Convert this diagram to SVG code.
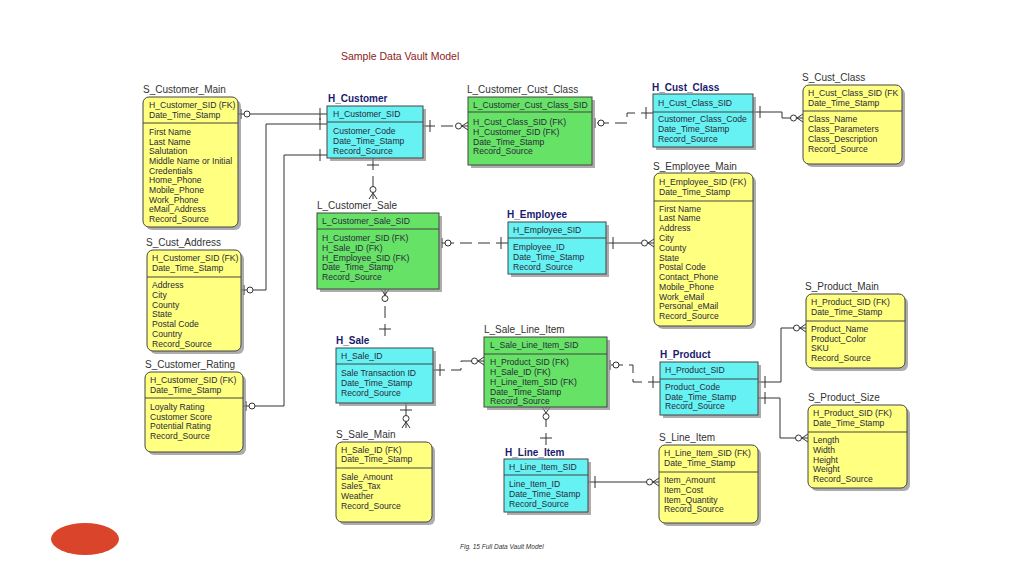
<svg xmlns="http://www.w3.org/2000/svg" width="1024" height="576" viewBox="0 0 1024 576">
<style>
text{font-family:"Liberation Sans",Arial,sans-serif;font-size:8.6px;fill:#2a2a3a}
.lbl{font-size:10px;fill:#333}
.ttl{font-size:10px;font-weight:bold;fill:#1a1a6e}
.sh{fill:#8a8a8a;opacity:.7}
.sat{fill:#ffff80;stroke:#444;stroke-width:1}
.hub{fill:#66f2f2;stroke:#444;stroke-width:1}
.lnk{fill:#66e266;stroke:#444;stroke-width:1}
.dv{stroke:#444;stroke-width:1}
.c{fill:none;stroke:#333;stroke-width:1}
.d{stroke-dasharray:12 6}
</style>
<defs>
<marker id="crow" markerUnits="userSpaceOnUse" markerWidth="16" markerHeight="12" refX="15" refY="6" orient="auto" overflow="visible">
<path d="M15,2 L9,6 L15,10" fill="none" stroke="#333"/><circle cx="5.5" cy="6" r="3" fill="#fff" stroke="#333"/>
</marker>
<marker id="ob" markerUnits="userSpaceOnUse" markerWidth="16" markerHeight="12" refX="15" refY="6" orient="auto" overflow="visible">
<path d="M12,1 L12,11" stroke="#333"/><circle cx="6" cy="6" r="3" fill="#fff" stroke="#333"/>
</marker>
<marker id="bar" markerUnits="userSpaceOnUse" markerWidth="12" markerHeight="12" refX="0" refY="6" orient="auto" overflow="visible">
<path d="M7,0 L7,12" stroke="#333"/>
</marker>
</defs>
<rect width="1024" height="576" fill="#fff"/>
<text x="341" y="60" style="font-size:10.5px;fill:#8b1c1c">Sample Data Vault Model</text>
<text x="460" y="549" style="font-size:6.5px;font-style:italic;fill:#333">Fig. 15  Full Data Vault Model</text>
<ellipse cx="85" cy="539" rx="34" ry="16" fill="#d9442a"/>

<g id="connectors">
<path class="c" marker-start="url(#bar)" marker-end="url(#ob)" d="M327,114 L238,114"/>
<path class="c" marker-start="url(#bar)" marker-end="url(#ob)" d="M327,124 L266,124 L266,290 L241,290"/>
<path class="c" marker-start="url(#bar)" marker-end="url(#ob)" d="M327,155 L284,155 L284,406 L243,406"/>
<path class="c d" marker-start="url(#bar)" marker-end="url(#crow)" d="M373,158 L373,199"/>
<path class="c d" marker-start="url(#bar)" marker-end="url(#crow)" d="M423,126 L468,126"/>
<path class="c d" marker-start="url(#bar)" marker-end="url(#ob)" d="M653,113 L627,113 L627,123 L592,123"/>
<path class="c" marker-start="url(#bar)" marker-end="url(#crow)" d="M753,112 L782,112 L782,118 L803,118"/>
<path class="c d" marker-start="url(#bar)" marker-end="url(#ob)" d="M508,243 L439,243"/>
<path class="c" marker-start="url(#bar)" marker-end="url(#crow)" d="M606,243 L654,243"/>
<path class="c d" marker-start="url(#bar)" marker-end="url(#crow)" d="M385,336 L385,289"/>
<path class="c d" marker-start="url(#bar)" marker-end="url(#crow)" d="M433,370 L461,370 L461,361 L484,361"/>
<path class="c" marker-start="url(#bar)" marker-end="url(#crow)" d="M406,403 L406,428"/>
<path class="c d" marker-start="url(#bar)" marker-end="url(#crow)" d="M546,445 L546,407"/>
<path class="c d" marker-start="url(#bar)" marker-end="url(#ob)" d="M660,382 L633,382 L633,365 L607,365"/>
<path class="c" marker-start="url(#bar)" marker-end="url(#crow)" d="M758,382 L781,382 L781,328 L806,328"/>
<path class="c" marker-start="url(#bar)" marker-end="url(#crow)" d="M758,398 L780,398 L780,438 L808,438"/>
<path class="c" marker-start="url(#bar)" marker-end="url(#crow)" d="M588,482 L659,482"/>
</g>

<g id="S_Customer_Main">
<text class="lbl" x="143" y="93">S_Customer_Main</text>
<rect class="sh" x="146" y="100" width="95" height="130" rx="6"/>
<rect class="sat" x="143" y="97" width="95" height="130" rx="6"/>
<line class="dv" x1="143" y1="123" x2="238" y2="123"/>
<text x="149" y="108">H_Customer_SID (FK)</text><text x="149" y="118">Date_Time_Stamp</text>
<text x="149" y="135">First Name</text><text x="149" y="145">Last Name</text><text x="149" y="154">Salutation</text><text x="149" y="164">Middle Name or Initial</text><text x="149" y="174">Credentials</text><text x="149" y="183">Home_Phone</text><text x="149" y="193">Mobile_Phone</text><text x="149" y="203">Work_Phone</text><text x="149" y="212">eMail_Address</text><text x="149" y="222">Record_Source</text>
</g>

<g id="H_Customer">
<text class="ttl" x="328" y="102">H_Customer</text>
<rect class="sh" x="330" y="109" width="96" height="52"/>
<rect class="hub" x="327" y="106" width="96" height="52"/>
<line class="dv" x1="327" y1="122" x2="423" y2="122"/>
<text x="333" y="117">H_Customer_SID</text>
<text x="333" y="134">Customer_Code</text><text x="333" y="144">Date_Time_Stamp</text><text x="333" y="154">Record_Source</text>
</g>

<g id="L_Customer_Cust_Class">
<text class="lbl" x="467" y="93">L_Customer_Cust_Class</text>
<rect class="sh" x="471" y="100" width="124" height="68"/>
<rect class="lnk" x="468" y="97" width="124" height="68"/>
<line class="dv" x1="468" y1="112" x2="592" y2="112"/>
<text x="473" y="108">L_Customer_Cust_Class_SID</text>
<text x="473" y="125">H_Cust_Class_SID (FK)</text><text x="473" y="135">H_Customer_SID (FK)</text><text x="473" y="145">Date_Time_Stamp</text><text x="473" y="154">Record_Source</text>
</g>

<g id="H_Cust_Class">
<text class="ttl" x="652" y="91">H_Cust_Class</text>
<rect class="sh" x="656" y="97" width="100" height="53"/>
<rect class="hub" x="653" y="94" width="100" height="53"/>
<line class="dv" x1="653" y1="112" x2="753" y2="112"/>
<text x="658" y="106">H_Cust_Class_SID</text>
<text x="658" y="122">Customer_Class_Code</text><text x="658" y="132">Date_Time_Stamp</text><text x="658" y="142">Record_Source</text>
</g>

<g id="S_Cust_Class">
<text class="lbl" x="802" y="81">S_Cust_Class</text>
<rect class="sh" x="806" y="88" width="99" height="79" rx="6"/>
<rect class="sat" x="803" y="85" width="99" height="79" rx="6"/>
<line class="dv" x1="803" y1="111" x2="902" y2="111"/>
<text x="808" y="96">H_Cust_Class_SID (FK</text><text x="808" y="106">Date_Time_Stamp</text>
<text x="808" y="122">Class_Name</text><text x="808" y="132">Class_Parameters</text><text x="808" y="142">Class_Description</text><text x="808" y="152">Record_Source</text>
</g>

<g id="L_Customer_Sale">
<text class="lbl" x="317" y="209">L_Customer_Sale</text>
<rect class="sh" x="320" y="216" width="122" height="76"/>
<rect class="lnk" x="317" y="213" width="122" height="76"/>
<line class="dv" x1="317" y1="229" x2="439" y2="229"/>
<text x="322" y="224">L_Customer_Sale_SID</text>
<text x="322" y="241">H_Customer_SID (FK)</text><text x="322" y="251">H_Sale_ID (FK)</text><text x="322" y="261">H_Employee_SID (FK)</text><text x="322" y="270">Date_Time_Stamp</text><text x="322" y="280">Record_Source</text>
</g>

<g id="H_Employee">
<text class="ttl" x="507" y="218">H_Employee</text>
<rect class="sh" x="511" y="225" width="98" height="52"/>
<rect class="hub" x="508" y="222" width="98" height="52"/>
<line class="dv" x1="508" y1="238" x2="606" y2="238"/>
<text x="513" y="233">H_Employee_SID</text>
<text x="513" y="250">Employee_ID</text><text x="513" y="260">Date_Time_Stamp</text><text x="513" y="270">Record_Source</text>
</g>

<g id="S_Employee_Main">
<text class="lbl" x="653" y="170">S_Employee_Main</text>
<rect class="sh" x="657" y="176" width="99" height="153" rx="6"/>
<rect class="sat" x="654" y="173" width="99" height="153" rx="6"/>
<line class="dv" x1="654" y1="201" x2="753" y2="201"/>
<text x="659" y="185">H_Employee_SID (FK)</text><text x="659" y="195">Date_Time_Stamp</text>
<text x="659" y="212">First Name</text><text x="659" y="221">Last Name</text><text x="659" y="231">Address</text><text x="659" y="241">City</text><text x="659" y="251">County</text><text x="659" y="261">State</text><text x="659" y="270">Postal Code</text><text x="659" y="280">Contact_Phone</text><text x="659" y="290">Mobile_Phone</text><text x="659" y="300">Work_eMail</text><text x="659" y="309">Personal_eMail</text><text x="659" y="319">Record_Source</text>
</g>

<g id="S_Cust_Address">
<text class="lbl" x="146" y="246">S_Cust_Address</text>
<rect class="sh" x="150" y="253" width="94" height="101" rx="6"/>
<rect class="sat" x="147" y="250" width="94" height="101" rx="6"/>
<line class="dv" x1="147" y1="277" x2="241" y2="277"/>
<text x="152" y="261">H_Customer_SID (FK)</text><text x="152" y="271">Date_Time_Stamp</text>
<text x="152" y="288">Address</text><text x="152" y="298">City</text><text x="152" y="308">County</text><text x="152" y="317">State</text><text x="152" y="327">Postal Code</text><text x="152" y="337">Country</text><text x="152" y="347">Record_Source</text>
</g>

<g id="S_Customer_Rating">
<text class="lbl" x="145" y="368">S_Customer_Rating</text>
<rect class="sh" x="148" y="375" width="98" height="80" rx="6"/>
<rect class="sat" x="145" y="372" width="98" height="80" rx="6"/>
<line class="dv" x1="145" y1="398" x2="243" y2="398"/>
<text x="150" y="383">H_Customer_SID (FK)</text><text x="150" y="393">Date_Time_Stamp</text>
<text x="150" y="410">Loyalty Rating</text><text x="150" y="420">Customer Score</text><text x="150" y="429">Potential Rating</text><text x="150" y="439">Record_Source</text>
</g>

<g id="H_Sale">
<text class="ttl" x="336" y="344">H_Sale</text>
<rect class="sh" x="339" y="351" width="97" height="55"/>
<rect class="hub" x="336" y="348" width="97" height="55"/>
<line class="dv" x1="336" y1="364" x2="433" y2="364"/>
<text x="341" y="359">H_Sale_ID</text>
<text x="341" y="376">Sale Transaction ID</text><text x="341" y="386">Date_Time_Stamp</text><text x="341" y="396">Record_Source</text>
</g>

<g id="S_Sale_Main">
<text class="lbl" x="336" y="438">S_Sale_Main</text>
<rect class="sh" x="339" y="445" width="96" height="80" rx="6"/>
<rect class="sat" x="336" y="442" width="96" height="80" rx="6"/>
<line class="dv" x1="336" y1="468" x2="432" y2="468"/>
<text x="341" y="453">H_Sale_ID (FK)</text><text x="341" y="462">Date_Time_Stamp</text>
<text x="341" y="480">Sale_Amount</text><text x="341" y="489">Sales_Tax</text><text x="341" y="499">Weather</text><text x="341" y="509">Record_Source</text>
</g>

<g id="L_Sale_Line_Item">
<text class="lbl" x="484" y="333">L_Sale_Line_Item</text>
<rect class="sh" x="487" y="340" width="123" height="70"/>
<rect class="lnk" x="484" y="337" width="123" height="70"/>
<line class="dv" x1="484" y1="354" x2="607" y2="354"/>
<text x="490" y="348">L_Sale_Line_Item_SID</text>
<text x="490" y="365">H_Product_SID (FK)</text><text x="490" y="375">H_Sale_ID (FK)</text><text x="490" y="385">H_Line_Item_SID (FK)</text><text x="490" y="395">Date_Time_Stamp</text><text x="490" y="404">Record_Source</text>
</g>

<g id="H_Line_Item">
<text class="ttl" x="505" y="456">H_Line_Item</text>
<rect class="sh" x="507" y="462" width="84" height="53"/>
<rect class="hub" x="504" y="459" width="84" height="53"/>
<line class="dv" x1="504" y1="475" x2="588" y2="475"/>
<text x="509" y="470">H_Line_Item_SID</text>
<text x="509" y="487">Line_Item_ID</text><text x="509" y="497">Date_Time_Stamp</text><text x="509" y="507">Record_Source</text>
</g>

<g id="H_Product">
<text class="ttl" x="660" y="358">H_Product</text>
<rect class="sh" x="663" y="365" width="98" height="53"/>
<rect class="hub" x="660" y="362" width="98" height="53"/>
<line class="dv" x1="660" y1="379" x2="758" y2="379"/>
<text x="665" y="373">H_Product_SID</text>
<text x="665" y="390">Product_Code</text><text x="665" y="400">Date_Time_Stamp</text><text x="665" y="409">Record_Source</text>
</g>

<g id="S_Product_Main">
<text class="lbl" x="805" y="290">S_Product_Main</text>
<rect class="sh" x="809" y="297" width="99" height="74" rx="6"/>
<rect class="sat" x="806" y="294" width="99" height="74" rx="6"/>
<line class="dv" x1="806" y1="321" x2="905" y2="321"/>
<text x="811" y="305">H_Product_SID (FK)</text><text x="811" y="315">Date_Time_Stamp</text>
<text x="811" y="332">Product_Name</text><text x="811" y="342">Product_Color</text><text x="811" y="351">SKU</text><text x="811" y="361">Record_Source</text>
</g>

<g id="S_Product_Size">
<text class="lbl" x="808" y="401">S_Product_Size</text>
<rect class="sh" x="811" y="408" width="99" height="83" rx="6"/>
<rect class="sat" x="808" y="405" width="99" height="83" rx="6"/>
<line class="dv" x1="808" y1="432" x2="907" y2="432"/>
<text x="813" y="416">H_Product_SID (FK)</text><text x="813" y="426">Date_Time_Stamp</text>
<text x="813" y="443">Length</text><text x="813" y="453">Width</text><text x="813" y="463">Height</text><text x="813" y="472">Weight</text><text x="813" y="482">Record_Source</text>
</g>

<g id="S_Line_Item">
<text class="lbl" x="659" y="441">S_Line_Item</text>
<rect class="sh" x="662" y="448" width="99" height="78" rx="6"/>
<rect class="sat" x="659" y="445" width="99" height="78" rx="6"/>
<line class="dv" x1="659" y1="472" x2="758" y2="472"/>
<text x="664" y="456">H_Line_Item_SID (FK)</text><text x="664" y="466">Date_Time_Stamp</text>
<text x="664" y="483">Item_Amount</text><text x="664" y="493">Item_Cost</text><text x="664" y="503">Item_Quantity</text><text x="664" y="512">Record_Source</text>
</g>
</svg>
